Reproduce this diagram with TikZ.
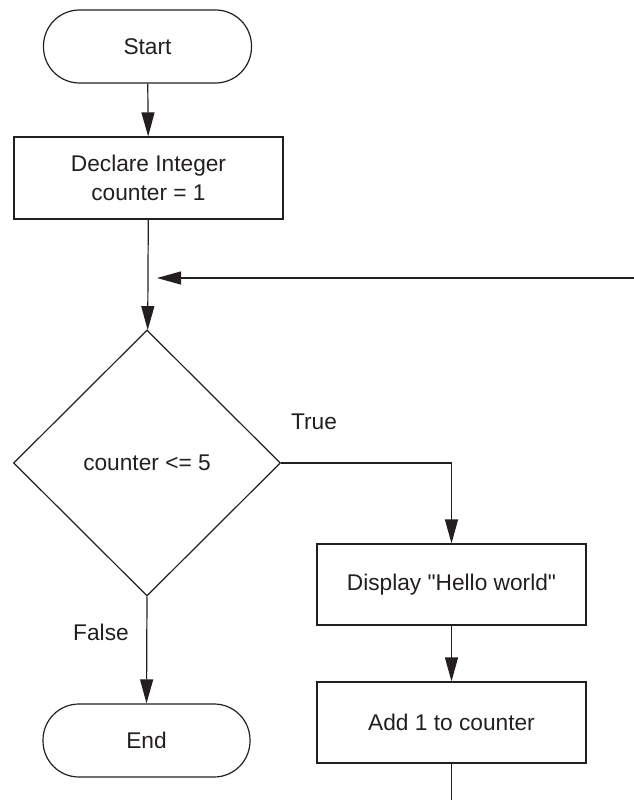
\documentclass[tikz,border=0pt]{standalone}
\usepackage{fontspec}
\setmainfont{Liberation Sans}
\usetikzlibrary{arrows.meta,positioning,shapes.geometric}
\definecolor{ink}{RGB}{35,31,32}

\begin{document}
\begin{tikzpicture}[x=1pt, y=-1pt,
      term/.style={rectangle, rounded corners=36pt, draw=ink, line width=1.2pt,
                   minimum width=208pt, minimum height=73pt, inner sep=0pt},
      proc/.style={rectangle, draw=ink, line width=1.2pt, align=center,
                   minimum width=269pt, minimum height=81pt, inner sep=0pt},
      test/.style={diamond, draw=ink, line width=1.2pt, inner sep=0pt,
                   minimum width=267pt, minimum height=266pt},
      lbl/.style={inner sep=0pt},
      flow/.style={-{Triangle[length=24pt, width=13pt]}, ink, line width=1.2pt},
      every node/.style={text=ink, font=\fontsize{22.7}{29}\selectfont}]
    \useasboundingbox (0,0) rectangle (634,800);
    % ----- left column
    \node[term] (start) at (147.5,46.5) {Start};
    \node[proc, minimum height=82pt] (decl) at (148.5,178) {Declare Integer\\counter = 1};
    \node[test] (cond) at (147,463) {counter <= 5};
    \node[term, minimum width=207pt] (stop) at (146.5,740.5) {End};
    % ----- right column
    \node[proc] (show) at (451.5,584.5) {Display \textquotedbl Hello world\textquotedbl};
    \node[proc] (incr) at (451.5,722.5) {Add 1 to counter};
    % ----- branch labels
    \node[lbl] (yes) at (314,422) {True};
    \node[lbl] (no) at (101,632) {False};
    % ----- loop back and loose end
    \coordinate (back) at (634,278);
    \coordinate (backtip) at (157,278);
    \coordinate (down) at (incr.south |- 0,800);
    % ----- connectors
    \draw[flow] (start) -- (decl);
    \draw[flow] (decl) -- (cond);
    \draw[flow] (cond.east) -| (show.north);
    \draw[flow] (show) -- (incr);
    \draw[flow] (cond.south) -- (stop.north);
    \draw[flow] (back) -- (backtip);
    \draw[ink, line width=1.2pt] (incr.south) -- (down);
\end{tikzpicture}
\end{document}
